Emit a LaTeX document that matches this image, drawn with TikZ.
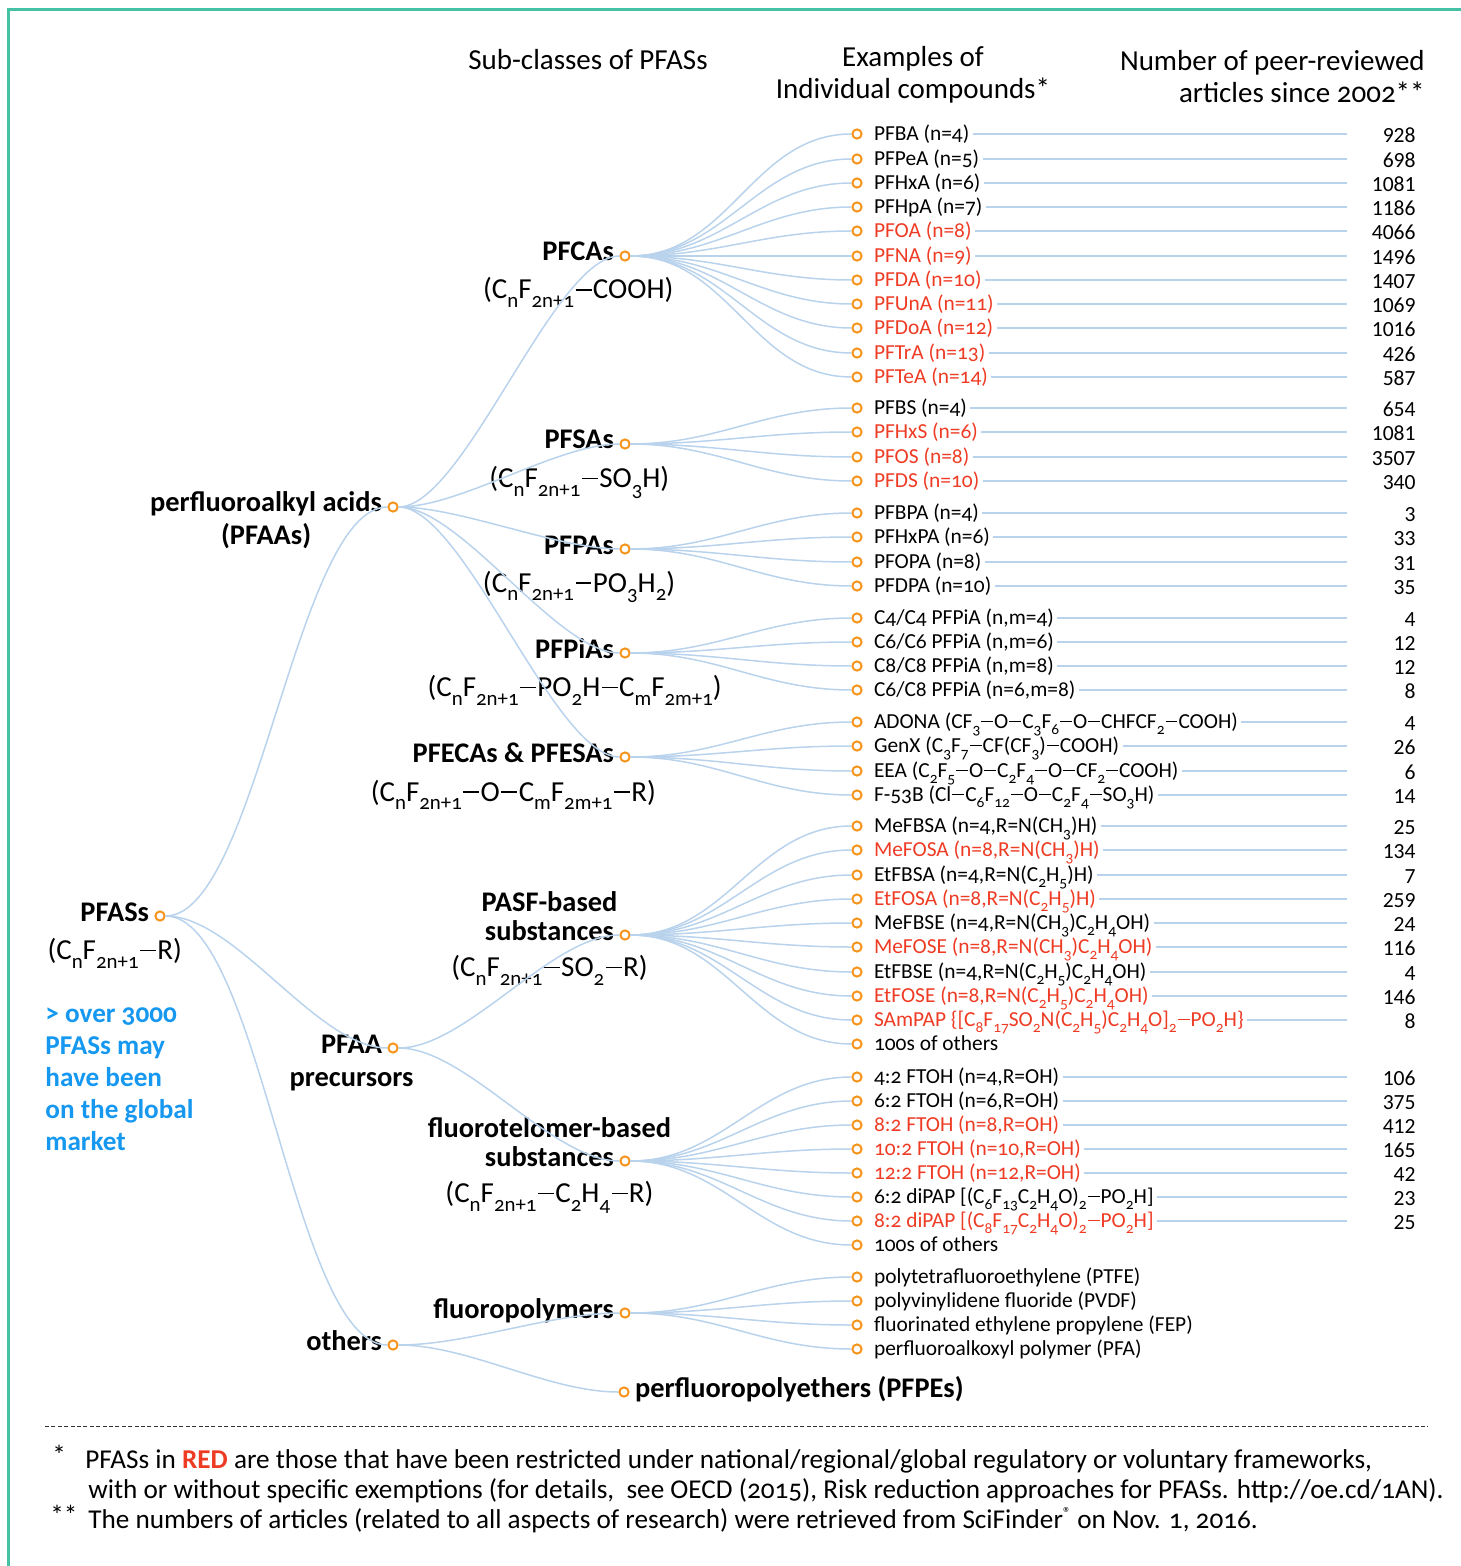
\documentclass[tikz,border=0pt]{standalone}
\usepackage{fontspec}
\setmainfont{Carlito}[Numbers=OldStyle]
\newfontfamily\countfont{Carlito}[Numbers=Lining]
\usetikzlibrary{positioning}

\definecolor{twigblue}{RGB}{185,211,236}
\definecolor{dotorange}{RGB}{247,148,29}
\definecolor{pfred}{RGB}{238,59,36}
\definecolor{blurbblue}{RGB}{22,152,240}
\definecolor{frameteal}{RGB}{69,193,166}

% chemical subscript and long minus
\newcommand\lo[1]{\raisebox{-0.6ex}{\scalebox{0.72}{#1}}}
\newcommand\mi{\kern0.05em\rule[0.29em]{0.55em}{0.065em}\kern0.05em}

\tikzset{
  dot/.style={circle,draw=dotorange,line width=1pt,minimum size=4.6pt,inner sep=0pt},
  twig/.style={draw=twigblue,line width=0.75pt},
  rule/.style={draw=twigblue,line width=0.6pt},
  klass/.style={font=\bfseries\fontsize{14.2}{17}\selectfont,inner sep=0pt,text height=0.7em,text depth=0.2em},
  formula/.style={font=\fontsize{14.5}{17}\selectfont,inner sep=0pt,text height=0.7em,text depth=0.2em},
  cpd/.style={font=\fontsize{10.7}{12}\selectfont,inner sep=0pt,text height=0.72em,text depth=0.08em},
  count/.style={font=\countfont\fontsize{10.8}{12}\selectfont,inner sep=0pt,anchor=east,text height=0.72em,text depth=0.08em},
  head/.style={font=\fontsize{14.5}{16}\selectfont,inner sep=0pt},
  blurb/.style={font=\bfseries\fontsize{13.6}{16}\selectfont,text=blurbblue,inner sep=0pt,align=left},
  foot/.style={font=\fontsize{13.6}{15}\selectfont,inner sep=0pt,anchor=base west}
}

\begin{document}
\begin{tikzpicture}[x=0.5pt,y=-0.5pt]
\useasboundingbox (0,0) rectangle (1460,1566);
% frame, open to the right and below
\draw[frameteal,line width=1.5pt] (1470,10) -- (8,10) -- (8,1580);

% column heads
\node[head] (hdSub) at (588,60) {Sub-classes of PFASs};
\node[head,align=center] (hdEx) at (913,75) {Examples of\\Individual compounds*};
\node[head,align=right,anchor=east] (hdNum) at (1425,77) {Number of peer-reviewed\\articles since 2002**};

% root
\node[dot] (pfas) at (160,916) {};
\node[klass,left=2.5pt of pfas] (pfasL) {PFASs};
\node[formula,below=10pt of pfasL] (pfasF) {(C\lo{n}F\lo{2n+1}\mi R)};
\node[blurb,anchor=north west] (blurb) at (45,1007) {> over 3000\\PFASs may\\have been\\on the global\\market};

% first level
\node[dot] (pfaa) at (393,507) {};
\node[klass,left=2.5pt of pfaa] (pfaaL) {perfluoroalkyl acids};
\node[klass,below=7pt of pfaaL] (pfaaS) {(PFAAs)};
\node[dot] (prec) at (393,1048) {};
\node[klass,left=2.5pt of prec] (precL) {PFAA};
\node[klass,below=7.1pt of precL] (precS) {precursors};
\node[dot] (oth) at (393,1345) {};
\node[klass,left=2.5pt of oth] (othL) {others};

% sub-classes
\node[dot] (pfca) at (625,256) {};
\node[klass,left=2.5pt of pfca] (pfcaL) {PFCAs};
\node[formula,below=9.6pt of pfcaL] (pfcaF) {(C\lo{n}F\lo{2n+1}\mi COOH)};
\node[dot] (pfsa) at (625,444) {};
\node[klass,left=2.5pt of pfsa] (pfsaL) {PFSAs};
\node[formula,below=10pt of pfsaL] (pfsaF) {(C\lo{n}F\lo{2n+1}\mi SO\lo{3}H)};
\node[dot] (pfpa) at (625,549) {};
\node[klass,left=2.5pt of pfpa] (pfpaL) {PFPAs};
\node[formula,below=9.8pt of pfpaL] (pfpaF) {(C\lo{n}F\lo{2n+1}\mi PO\lo{3}H\lo{2})};
\node[dot] (pfpia) at (625,653) {};
\node[klass,left=2.5pt of pfpia] (pfpiaL) {PFPiAs};
\node[formula,below=10pt of pfpiaL] (pfpiaF) {(C\lo{n}F\lo{2n+1}\mi PO\lo{2}H\mi C\lo{m}F\lo{2m+1})};
\node[dot] (pfeca) at (625,757) {};
\node[klass,left=2.5pt of pfeca] (pfecaL) {PFECAs \& PFESAs};
\node[formula,below=10.3pt of pfecaL] (pfecaF) {(C\lo{n}F\lo{2n+1}\mi O\mi C\lo{m}F\lo{2m+1}\mi R)};
\node[dot] (pasf) at (625,935) {};
\node[klass,left=2.5pt of pasf] (pasfL) {substances};
\node[klass,above=5pt of pasfL] (pasfT) {PASF-based};
\node[formula,below=9pt of pasfL] (pasfF) {(C\lo{n}F\lo{2n+1}\mi SO\lo{2}\mi R)};
\node[dot] (ftel) at (625,1161) {};
\node[klass,left=2.5pt of ftel] (ftelL) {substances};
\node[klass,above=5pt of ftelL] (ftelT) {fluorotelomer-based};
\node[formula,below=9pt of ftelL] (ftelF) {(C\lo{n}F\lo{2n+1}\mi C\lo{2}H\lo{4}\mi R)};
\node[dot] (fpol) at (625,1313) {};
\node[klass,left=2.5pt of fpol] (fpolL) {fluoropolymers};
\node[dot] (pfpe) at (624,1392) {};
\node[klass,right=2.5pt of pfpe] (pfpeL) {perfluoropolyethers (PFPEs)};

% main branches
\draw[twig] (pfas.east) to[out=0,in=180,looseness=0.5] (pfaa.west);
\draw[twig] (pfas.east) to[out=0,in=180,looseness=0.7] (prec.west);
\draw[twig] (pfas.east) to[out=0,in=180,looseness=0.5] (oth.west);
\draw[twig] (pfaa.east) to[out=0,in=180,looseness=0.5] (pfca.west);
\draw[twig] (pfaa.east) to[out=0,in=180,looseness=0.7] (pfsa.west);
\draw[twig] (pfaa.east) to[out=0,in=180,looseness=0.7] (pfpa.west);
\draw[twig] (pfaa.east) to[out=0,in=180,looseness=0.6] (pfpia.west);
\draw[twig] (pfaa.east) to[out=0,in=180,looseness=0.5] (pfeca.west);
\draw[twig] (prec.east) to[out=0,in=180,looseness=0.7] (pasf.west);
\draw[twig] (prec.east) to[out=0,in=180,looseness=0.7] (ftel.west);
\draw[twig] (oth.east) to[out=0,in=180,looseness=0.8] (fpol.west);
\draw[twig] (oth.east) to[out=0,in=180,looseness=0.8] (pfpe.west);

% individual compounds with article counts
\coordinate (numcol) at (1347,0);
\foreach \p/\y/\col/\txt/\num in {
  pfca/134/black/{PFBA (n=4)}/928, pfca/159/black/{PFPeA (n=5)}/698,
  pfca/183/black/{PFHxA (n=6)}/1081, pfca/207/black/{PFHpA (n=7)}/1186,
  pfca/231/pfred/{PFOA (n=8)}/4066, pfca/256/pfred/{PFNA (n=9)}/1496,
  pfca/280/pfred/{PFDA (n=10)}/1407, pfca/304/pfred/{PFUnA (n=11)}/1069,
  pfca/328/pfred/{PFDoA (n=12)}/1016, pfca/353/pfred/{PFTrA (n=13)}/426,
  pfca/377/pfred/{PFTeA (n=14)}/587,
  pfsa/408/black/{PFBS (n=4)}/654, pfsa/432/pfred/{PFHxS (n=6)}/1081,
  pfsa/457/pfred/{PFOS (n=8)}/3507, pfsa/481/pfred/{PFDS (n=10)}/340,
  pfpa/513/black/{PFBPA (n=4)}/3, pfpa/537/black/{PFHxPA (n=6)}/33,
  pfpa/562/black/{PFOPA (n=8)}/31, pfpa/586/black/{PFDPA (n=10)}/35,
  pfpia/618/black/{C4/C4 PFPiA (n,m=4)}/4, pfpia/642/black/{C6/C6 PFPiA (n,m=6)}/12,
  pfpia/666/black/{C8/C8 PFPiA (n,m=8)}/12, pfpia/690/black/{C6/C8 PFPiA (n=6,m=8)}/8,
  pfeca/722/black/{ADONA (CF\lo{3}\mi O\mi C\lo{3}F\lo{6}\mi O\mi CHFCF\lo{2}\mi COOH)}/4,
  pfeca/746/black/{GenX (C\lo{3}F\lo{7}\mi CF(CF\lo{3})\mi COOH)}/26,
  pfeca/771/black/{EEA (C\lo{2}F\lo{5}\mi O\mi C\lo{2}F\lo{4}\mi O\mi CF\lo{2}\mi COOH)}/6,
  pfeca/795/black/{F-53B (Cl\mi C\lo{6}F\lo{12}\mi O\mi C\lo{2}F\lo{4}\mi SO\lo{3}H)}/14,
  pasf/826/black/{MeFBSA (n=4,R=N(CH\lo{3})H)}/25,
  pasf/850/pfred/{MeFOSA (n=8,R=N(CH\lo{3})H)}/134,
  pasf/875/black/{EtFBSA (n=4,R=N(C\lo{2}H\lo{5})H)}/7,
  pasf/899/pfred/{EtFOSA (n=8,R=N(C\lo{2}H\lo{5})H)}/259,
  pasf/923/black/{MeFBSE (n=4,R=N(CH\lo{3})C\lo{2}H\lo{4}OH)}/24,
  pasf/947/pfred/{MeFOSE (n=8,R=N(CH\lo{3})C\lo{2}H\lo{4}OH)}/116,
  pasf/972/black/{EtFBSE (n=4,R=N(C\lo{2}H\lo{5})C\lo{2}H\lo{4}OH)}/4,
  pasf/996/pfred/{EtFOSE (n=8,R=N(C\lo{2}H\lo{5})C\lo{2}H\lo{4}OH)}/146,
  pasf/1020/pfred/{SAmPAP \{[C\lo{8}F\lo{17}SO\lo{2}N(C\lo{2}H\lo{5})C\lo{2}H\lo{4}O]\lo{2}\mi PO\lo{2}H\}}/8,
  ftel/1077/black/{4:2 FTOH (n=4,R=OH)}/106, ftel/1101/black/{6:2 FTOH (n=6,R=OH)}/375,
  ftel/1125/pfred/{8:2 FTOH (n=8,R=OH)}/412, ftel/1149/pfred/{10:2 FTOH (n=10,R=OH)}/165,
  ftel/1173/pfred/{12:2 FTOH (n=12,R=OH)}/42,
  ftel/1197/black/{6:2 diPAP [(C\lo{6}F\lo{13}C\lo{2}H\lo{4}O)\lo{2}\mi PO\lo{2}H]}/23,
  ftel/1221/pfred/{8:2 diPAP [(C\lo{8}F\lo{17}C\lo{2}H\lo{4}O)\lo{2}\mi PO\lo{2}H]}/25}{
  \node[dot] (i\y) at (857,\y) {};
  \node[cpd,text=\col,right=5.5pt of i\y] (t\y) {\txt};
  \node[count] (n\y) at (1416,\y+2) {\num};
  \draw[twig] (\p.east) to[out=0,in=180] (i\y.west);
  \draw[rule,shorten <=1.5pt] (t\y.east) -- (t\y.east -| numcol);
}
% entries without counts
\foreach \p/\y/\txt in {pasf/1044/{100s of others}, ftel/1245/{100s of others},
  fpol/1277/{polytetrafluoroethylene (PTFE)}, fpol/1301/{polyvinylidene fluoride (PVDF)},
  fpol/1325/{fluorinated ethylene propylene (FEP)}, fpol/1349/{perfluoroalkoxyl polymer (PFA)}}{
  \node[dot] (i\y) at (857,\y) {};
  \node[cpd,right=5.5pt of i\y] (t\y) {\txt};
  \draw[twig] (\p.east) to[out=0,in=180] (i\y.west);
}

% footnotes
\coordinate (dashL) at (45,1426);
\coordinate (dashR) at (1428,1426);
\draw[black!80,line width=0.5pt,dash pattern=on 2pt off 1.2pt] (dashL) -- (dashR);
\node[foot] (fnA) at (52,1464) {*};
\node[foot] (fnB) at (85,1468) {PFASs in {\bfseries\color{pfred}RED} are those that have been restricted under national/regional/global regulatory or voluntary frameworks,};
\node[foot] (fnC) at (88,1498) {with or without specific exemptions (for details,\ \ see OECD (2015), Risk reduction approaches for PFASs. http://oe.cd/1AN).};
\node[foot] (fnD) at (50,1524) {**};
\node[foot] (fnE) at (88,1528) {The numbers of articles (related to all aspects of research) were retrieved from SciFinder\raisebox{0.7ex}{\fontsize{8}{8}\selectfont ®} on Nov. 1, 2016.};
\end{tikzpicture}
\end{document}
